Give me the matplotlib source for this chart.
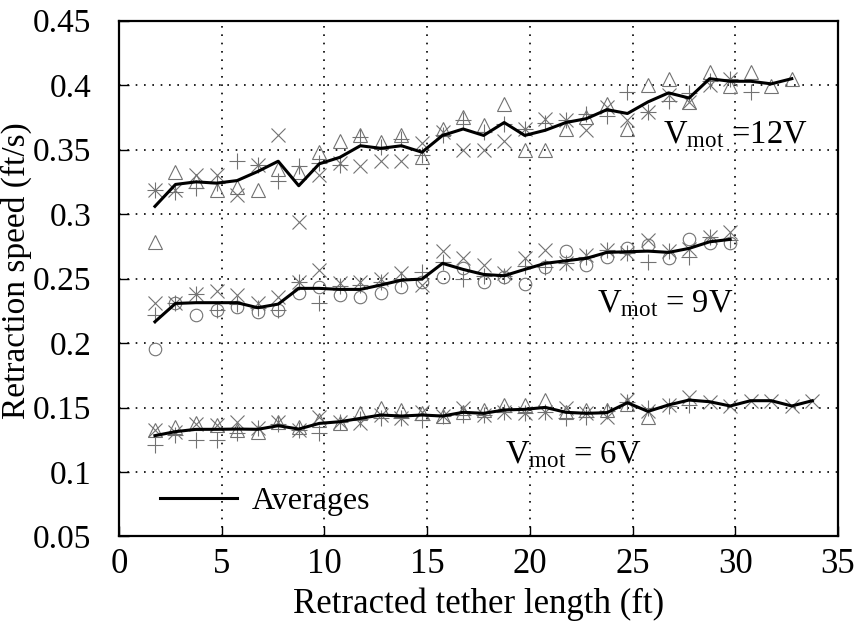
import numpy as np
import matplotlib
matplotlib.use("Agg")
import matplotlib.pyplot as plt

plt.rcParams['font.family'] = ['Liberation Serif', 'DejaVu Serif']
plt.rcParams['mathtext.fontset'] = 'custom'
plt.rcParams['mathtext.rm'] = 'Liberation Serif'
plt.rcParams['mathtext.it'] = 'Liberation Serif:italic'

nan = np.nan
x_pos = [1.75, 2.75, 3.75, 4.75, 5.75, 6.75, 7.75, 8.75, 9.75, 10.75, 11.75,
         12.75, 13.75, 14.75, 15.75, 16.75, 17.75, 18.75, 19.75, 20.75, 21.75,
         22.75, 23.75, 24.75, 25.75, 26.75, 27.75, 28.75, 29.75, 30.75, 31.75,
         32.75, 33.75]

# 12 V
avg12 = [0.306, 0.323, 0.325, 0.324, 0.326, 0.333, 0.341, 0.322, 0.339, 0.344, 0.353,
         0.351, 0.353, 0.348, 0.361, 0.366, 0.361, 0.371, 0.361, 0.365, 0.371,
         0.374, 0.381, 0.378, 0.387, 0.394, 0.390, 0.405, 0.403, 0.403, 0.401, 0.405]
x12 = [0.319, 0.319, 0.330, 0.330, 0.315, 0.338, 0.361, 0.294, 0.330, 0.340, 0.337,
       0.341, 0.341, 0.355, 0.364, 0.350, 0.350, 0.357, 0.366, 0.374, 0.373,
       0.365, 0.383, 0.373, 0.379, 0.392, 0.387, 0.400, 0.405, nan, nan, nan]
p12 = [0.319, 0.317, 0.320, 0.324, 0.341, 0.338, 0.326, 0.337, 0.340, 0.338, 0.360,
       0.352, 0.358, 0.346, 0.361, 0.373, 0.364, 0.370, 0.366, 0.371, 0.373,
       0.378, 0.376, 0.395, 0.379, 0.388, 0.394, 0.403, 0.405, 0.395, nan, nan]
t12 = [0.278, 0.333, 0.326, 0.319, 0.321, 0.319, 0.335, 0.333, 0.348, 0.357, 0.361,
       0.356, 0.361, 0.344, 0.366, 0.375, 0.369, 0.385, 0.350, 0.350, 0.366,
       0.375, 0.385, 0.366, 0.400, 0.405, 0.387, 0.410, 0.399, 0.410, 0.399, 0.405]

# 9 V
avg9 = [0.2165, 0.2307, 0.2313, 0.2313, 0.2313, 0.2274, 0.2302, 0.2424, 0.2424, 0.2416,
        0.2416, 0.245, 0.2488, 0.2496, 0.2618, 0.2571, 0.2532, 0.2522, 0.2571, 0.2618,
        0.2638, 0.2657, 0.2703, 0.2708, 0.2713, 0.2703, 0.2734, 0.2785, 0.2804]
x9 = [0.231, 0.231, 0.238, 0.240, 0.237, 0.231, 0.236, 0.2475, 0.2566, 0.2462,
      0.2475, 0.250, 0.254, 0.245, 0.271, 0.266, 0.2605, 0.254, 0.266, 0.272,
      0.262, 0.268, 0.272, 0.2695, 0.280, 0.271, 0.273, 0.2824, 0.2863]
p9 = [0.222, 0.231, 0.238, 0.226, 0.230, 0.227, 0.226, 0.2475, 0.2307, 0.244,
      0.245, 0.247, 0.250, 0.2553, 0.263, 0.250, 0.252, 0.252, 0.260, 0.259,
      0.262, 0.267, 0.272, 0.2695, 0.263, 0.271, 0.267, 0.2824, 0.280]
o9 = [0.195, 0.231, 0.222, 0.226, 0.228, 0.224, 0.226, 0.2385, 0.2437, 0.2372,
      0.236, 0.2385, 0.2437, 0.2475, 0.2514, 0.258, 0.2475, 0.251, 0.246, 0.259,
      0.271, 0.2605, 0.267, 0.2734, 0.276, 0.2657, 0.281, 0.2773, 0.2773]

# 6 V
avg6 = [0.1282, 0.1313, 0.1331, 0.1331, 0.1333, 0.1331, 0.1359, 0.1333, 0.1377, 0.139,
        0.1416, 0.1442, 0.1434, 0.1442, 0.1434, 0.1463, 0.1455, 0.1481, 0.1486, 0.1501,
        0.1463, 0.1455, 0.146, 0.1537, 0.147, 0.152, 0.1558, 0.1545, 0.1512, 0.1553,
        0.1553, 0.1512, 0.1553]
x6 = [0.1326, 0.1313, 0.137, 0.1365, 0.139, 0.1338, 0.139, 0.1326, 0.1429, 0.139,
      0.138, 0.144, 0.1416, 0.1468, 0.1434, 0.1494, 0.1442, 0.1468, 0.1455, 0.1468,
      0.1494, 0.1455, 0.1429, 0.1558, 0.147, 0.152, 0.1584, 0.1545, 0.1512, 0.1553,
      0.1553, 0.1512, 0.1553]
p6 = [0.121, 0.129, 0.1248, 0.1248, 0.130, 0.1338, 0.137, 0.1326, 0.130, 0.139,
      0.141, 0.142, 0.1416, 0.140, 0.1434, 0.144, 0.144, 0.1468, 0.1455, 0.1468,
      0.1416, 0.143, 0.147, 0.1545, 0.1494, 0.151, 0.152, nan, nan, nan,
      nan, nan, nan]
t6 = [0.1326, 0.1352, 0.1377, 0.1365, 0.1326, 0.131, 0.139, 0.135, 0.14, 0.138,
      0.1455, 0.1494, 0.148, 0.1455, 0.1434, 0.1468, 0.148, 0.152, 0.152, 0.1558,
      0.1468, 0.148, 0.148, 0.153, 0.1429, nan, nan, nan, nan, nan,
      nan, nan, nan]

x_ticks = [0, 5, 10, 15, 20, 25, 30, 35]
y_ticks = [0.05, 0.1, 0.15, 0.2, 0.25, 0.3, 0.35, 0.4, 0.45]
y_ticklabels = ['0.05', '0.1', '0.15', '0.2', '0.25', '0.3', '0.35', '0.4', '0.45']

fig = plt.figure(figsize=(8.56, 6.26), dpi=100)
ax = fig.add_axes([0.139, 0.143, 0.840, 0.824])

mc = '#727272'
mkw = dict(linestyle='none', color=mc, markerfacecolor='none',
           markeredgecolor=mc, markeredgewidth=0.8)

def scatter_group(n, ys, markers, sizes):
    xs = x_pos[:n]
    for y, m, s in zip(ys, markers, sizes):
        ax.plot(xs, y, marker=m, markersize=s, **mkw)

scatter_group(32, [x12, p12, t12], ['x', '+', '^'], [9.5, 11, 10])
scatter_group(29, [x9, p9, o9], ['x', '+', 'o'], [9.5, 11, 9])
scatter_group(33, [x6, p6, t6], ['x', '+', '^'], [9.5, 11, 10])

ax.plot(x_pos[:32], avg12, color='black', lw=2.2, label='Averages')
ax.plot(x_pos[:29], avg9, color='black', lw=2.2)
ax.plot(x_pos[:33], avg6, color='black', lw=2.2)

ax.set_xlim(0, 35)
ax.set_ylim(0.05, 0.45)
ax.set_xticks(x_ticks)
ax.set_yticks(y_ticks)
ax.set_yticklabels(y_ticklabels)
ax.tick_params(direction='in', length=7, width=1, labelsize=25)
ax.tick_params(axis='y', pad=20, labelsize=24)
ax.tick_params(axis='x', pad=8)
ax.grid(True, color='black', linestyle=(0, (1, 4)), linewidth=1.2)
for s in ax.spines.values():
    s.set_linewidth(1.6)

ax.set_xlabel('Retracted tether length (ft)', fontsize=25)
ax.set_ylabel('Retraction speed (ft/s)', fontsize=24)
ax.xaxis.set_label_coords(0.5, -0.098)
ax.yaxis.set_label_coords(-0.121, 0.516)

ax.text(26.48, 0.355, r'V$_{\mathrm{mot}}$ =12V', fontsize=23.5, va='baseline')
ax.text(23.26, 0.2243, r'V$_{\mathrm{mot}}$ = 9V', fontsize=23.5, va='baseline')
ax.text(18.79, 0.107, r'V$_{\mathrm{mot}}$ = 6V', fontsize=23.5, va='baseline')

leg = ax.legend(loc='center left', frameon=False, fontsize=23,
                handlelength=2.4, handletextpad=0.47, borderpad=0,
                borderaxespad=0, bbox_to_anchor=(0.057, 0.0674))

fig.savefig('out.png', dpi=100)
